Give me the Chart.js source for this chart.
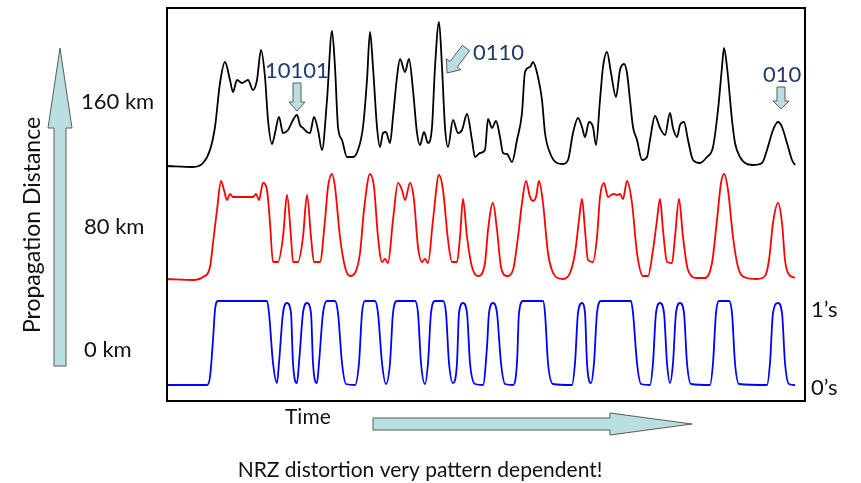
<!DOCTYPE html>
<html>
<head>
<meta charset="utf-8">
<script src="https://cdn.jsdelivr.net/npm/chart.js@4/dist/chart.umd.min.js"></script>
<style>
html,body{margin:0;padding:0;background:#fff;}
#wrap{width:861px;height:483px;}
</style>
</head>
<body>
<div id="wrap"><canvas id="c" width="861" height="483"></canvas></div>
<script>
// ---- Data (time in arbitrary units, level in arbitrary units) ----
const blackTime  = [0,26,36,43,48,53,58,63,66,70,75,81,86,90,94,98,101,105,108,112,116,121,126,130,133,136,140,143,147,151,155,160,165,168,171,175,180,186,191,196,200,203,206,210,213,216,219,223,226,230,233,238,242,246,250,253,257,261,265,268,272,275,278,281,286,291,295,300,305,308,313,318,321,325,329,333,336,340,345,350,355,358,363,366,371,375,378,383,390,396,401,406,411,415,418,422,426,429,433,436,440,444,449,453,457,460,463,466,470,475,480,483,488,493,498,503,506,510,513,517,521,526,533,540,546,551,555,557,560,565,568,573,578,586,595,600,606,611,615,620,625,628];
const blackLevel = [235,234,238,251,274,318,339,321,309,321,318,321,311,321,351,324,281,257,268,284,268,271,281,286,276,273,269,268,284,271,251,301,370,334,274,261,244,244,251,274,321,369,334,274,254,268,269,258,284,324,342,329,342,311,268,256,269,258,274,334,379,334,274,254,281,268,271,287,261,244,248,251,282,273,280,264,248,247,239,261,288,329,334,339,324,301,268,248,238,237,241,268,283,274,264,279,274,256,301,334,349,328,304,331,337,328,301,274,261,241,244,261,285,273,266,288,273,264,276,279,261,241,238,244,254,291,334,353,334,281,258,244,238,236,238,251,271,279,274,258,241,236];

const redTime  = [0,26,36,43,46,50,54,57,60,63,66,86,89,92,96,100,103,106,111,116,120,124,126,131,136,140,144,147,153,158,161,165,168,173,178,183,188,193,197,203,207,211,215,218,221,226,231,235,238,243,247,251,255,258,261,266,272,276,281,285,290,293,296,300,305,311,318,321,326,330,334,340,346,351,355,359,363,366,369,372,376,381,388,396,403,408,412,415,418,421,426,430,433,437,441,444,447,450,453,456,460,465,470,476,481,486,490,493,496,500,505,508,512,516,521,530,538,545,550,554,557,561,566,571,580,590,598,602,606,611,615,618,621,628];
const redLevel = [122,121,124,134,158,191,220,211,201,207,204,204,207,201,218,211,178,139,139,164,206,164,139,139,164,206,164,139,139,181,214,227,214,164,134,125,128,148,191,227,214,164,139,142,138,181,218,211,201,218,201,154,139,142,138,181,226,211,161,139,139,164,202,164,134,125,138,171,198,171,134,125,131,164,198,220,204,200,204,220,198,148,125,122,128,148,181,202,171,141,139,164,204,218,204,206,207,206,207,202,220,198,148,125,125,151,181,202,171,139,138,164,202,164,131,123,123,138,181,218,227,211,164,134,123,122,125,141,178,198,178,141,128,123];

const blueTime  = [0,40,43,46,48,51,100,102,106,110,112,116,120,124,126,130,132,136,140,144,146,150,152,156,160,168,171,175,179,188,192,195,198,208,211,215,219,223,226,230,248,251,254,258,261,264,268,276,279,282,286,290,292,296,300,303,308,316,320,322,326,330,334,338,346,350,352,356,376,378,381,386,405,408,411,415,418,420,424,427,430,434,464,466,470,474,483,486,489,493,497,500,503,506,509,513,517,520,524,543,546,549,552,562,565,568,572,600,603,606,611,615,618,622,628];
const blueLevel = [16,16,24,61,91,100,100,88,38,18,38,88,98,88,38,18,38,88,98,88,38,18,38,88,100,100,88,38,17,16,38,88,100,100,88,38,17,38,88,100,100,88,38,17,38,88,100,100,88,38,18,38,88,98,88,38,17,16,54,88,98,88,38,17,16,38,88,100,100,88,38,17,16,38,88,98,88,38,18,38,88,100,100,88,38,17,16,38,88,98,88,38,18,38,88,98,88,38,17,16,38,88,100,100,88,38,17,16,38,88,98,88,38,17,16];

const distanceLabels = ['160 km', '80 km', '0 km'];
const distanceLevels = [299, 174, 51];
const stateLabels = ['1\u2019s', '0\u2019s'];
const stateLevels = [91, 13];
const patternLabels = ['10101', '0110', '010'];
const patternTime   = [130, 280, 614];   // where each arrow points
const patternLevel  = [290, 328, 292];

const toPts = (t, v) => t.map((x, i) => ({x: x, y: v[i]}));

const FONT = 'Lato, "Open Sans", sans-serif';
const ARROW_FILL = '#b9dfe2';
const ARROW_EDGE = '#5a5a5a';
const NAVY = '#1f3a6e';
const INK = '#111';

function blockArrow(ctx, x0, y0, x1, y1, shaft, head, headLen) {
  const dx = x1 - x0, dy = y1 - y0;
  const L = Math.hypot(dx, dy);
  const ux = dx / L, uy = dy / L;
  const nx = -uy, ny = ux;
  const bx = x1 - ux * headLen, by = y1 - uy * headLen;
  const s = shaft / 2, h = head / 2;
  ctx.save();
  ctx.beginPath();
  ctx.moveTo(x0 + nx * s, y0 + ny * s);
  ctx.lineTo(bx + nx * s, by + ny * s);
  ctx.lineTo(bx + nx * h, by + ny * h);
  ctx.lineTo(x1, y1);
  ctx.lineTo(bx - nx * h, by - ny * h);
  ctx.lineTo(bx - nx * s, by - ny * s);
  ctx.lineTo(x0 - nx * s, y0 - ny * s);
  ctx.closePath();
  ctx.fillStyle = ARROW_FILL;
  ctx.fill();
  ctx.lineWidth = 1;
  ctx.strokeStyle = ARROW_EDGE;
  ctx.stroke();
  ctx.restore();
}

const decor = {
  id: 'decor',
  afterDraw(chart) {
    const ctx = chart.ctx;
    const a = chart.chartArea;
    const xs = chart.scales.x, ys = chart.scales.y;
    ctx.save();
    // frame
    ctx.strokeStyle = '#000';
    ctx.lineWidth = 2;
    ctx.strokeRect(a.left, a.top, a.right - a.left, a.bottom - a.top);

    // vertical propagation arrow
    blockArrow(ctx, 60, 366, 60, 48, 12, 24, 80);
    ctx.save();
    ctx.translate(33, 225);
    ctx.rotate(-Math.PI / 2);
    ctx.fillStyle = INK;
    ctx.font = '23px ' + FONT;
    ctx.textAlign = 'center';
    ctx.textBaseline = 'middle';
    ctx.fillText('Propagation Distance', 0, 0);
    ctx.restore();

    // distance labels
    ctx.fillStyle = INK;
    ctx.font = '22px ' + FONT;
    ctx.textAlign = 'left';
    ctx.textBaseline = 'middle';
    distanceLabels.forEach((s, i) => {
      ctx.fillText(s, i === 0 ? 81 : 84, ys.getPixelForValue(distanceLevels[i]));
    });
    // state labels
    stateLabels.forEach((s, i) => {
      ctx.fillText(s, a.right + 6, ys.getPixelForValue(stateLevels[i]));
    });

    // time axis label + arrow
    ctx.font = '21px ' + FONT;
    ctx.textBaseline = 'alphabetic';
    ctx.fillStyle = INK;
    ctx.fillText('Time', 285, 424);
    blockArrow(ctx, 373, 424, 692, 424, 12, 22, 82);

    // footnote
    ctx.font = '21px ' + FONT;
    ctx.fillStyle = INK;
    ctx.textAlign = 'center';
    ctx.fillText('NRZ distortion very pattern dependent!', 420, 477);

    // pattern annotations
    ctx.font = '22px ' + FONT;
    ctx.textAlign = 'left';
    const p = patternTime.map((t, i) => ({x: xs.getPixelForValue(t), y: ys.getPixelForValue(patternLevel[i])}));
    // 10101
    blockArrow(ctx, p[0].x, p[0].y - 28, p[0].x, p[0].y, 8, 16, 9);
    ctx.fillStyle = NAVY;
    ctx.fillText(patternLabels[0], p[0].x - 32, p[0].y - 33);
    // 0110 (diagonal)
    blockArrow(ctx, p[1].x + 19, p[1].y - 25, p[1].x, p[1].y, 9, 18, 11);
    ctx.fillStyle = NAVY;
    ctx.fillText(patternLabels[1], p[1].x + 26, p[1].y - 13);
    // 010
    blockArrow(ctx, p[2].x, p[2].y - 22, p[2].x, p[2].y, 8, 16, 8);
    ctx.fillStyle = NAVY;
    ctx.fillText(patternLabels[2], p[2].x - 18, p[2].y - 27);
    ctx.restore();
  }
};

const lineStyle = {showLine: true, pointRadius: 0, borderWidth: 1.8, cubicInterpolationMode: 'monotone', fill: false};

new Chart(document.getElementById('c'), {
  type: 'scatter',
  data: {
    datasets: [
      Object.assign({label: '160 km', data: toPts(blackTime, blackLevel), borderColor: '#000'}, lineStyle),
      Object.assign({label: '80 km', data: toPts(redTime, redLevel), borderColor: '#ff0000'}, lineStyle),
      Object.assign({label: '0 km', data: toPts(blueTime, blueLevel), borderColor: '#0000ff'}, lineStyle)
    ]
  },
  options: {
    responsive: false,
    animation: false,
    devicePixelRatio: 1,
    layout: {padding: {left: 167, right: 56, top: 8, bottom: 82}},
    plugins: {legend: {display: false}, tooltip: {enabled: false}},
    scales: {
      x: {type: 'linear', min: 0, max: 638, display: false},
      y: {type: 'linear', min: 0, max: 393, display: false}
    }
  },
  plugins: [decor]
});
</script>
</body>
</html>
